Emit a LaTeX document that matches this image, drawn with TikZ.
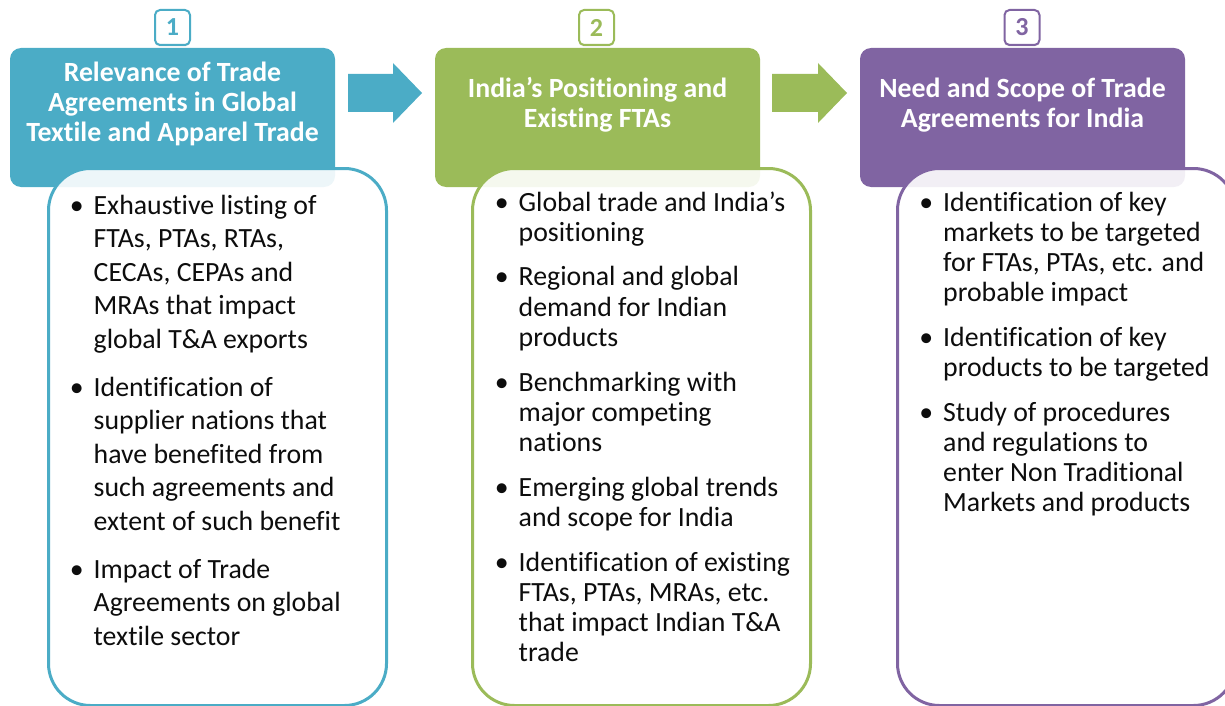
\documentclass[tikz,border=0pt]{standalone}
\usepackage{fontspec}
\setmainfont[Ligatures=NoCommon]{Carlito}
\usetikzlibrary{shadows}
\definecolor{cteal}{HTML}{4BACC6}
\definecolor{cgreen}{HTML}{9BBB59}
\definecolor{cpurple}{HTML}{8064A2}
\definecolor{ink}{HTML}{0D0D0D}
\newcommand{\bul}{\leavevmode\llap{\textbullet\hspace{10pt}}}
\begin{document}
\begin{tikzpicture}[x=1pt,y=-1pt,
  header/.style={fill=#1, draw=none, rounded corners=11pt,
    minimum width=325pt, minimum height=139pt, inner sep=0pt},
  card/.style={draw=#1, line width=3pt, fill=white, fill opacity=0.9,
    draw opacity=1, rounded corners=42pt,
    minimum width=338pt, minimum height=537pt, inner sep=0pt},
  numbox/.style={draw=#1, line width=2pt, fill=white, rounded corners=5pt,
    minimum size=35pt, inner sep=0pt, text=#1,
    font=\fontsize{26}{26}\selectfont\bfseries,
    drop shadow={opacity=0.22, shadow xshift=0pt, shadow yshift=-1.5pt}},
  title/.style={inner sep=0pt, anchor=base, text=white},
  body/.style={inner sep=0pt, anchor=base west, text=ink},
  blockarrow/.style={fill=#1, draw=none}
]
\useasboundingbox (0,0) rectangle (1225,706);
\clip (0,0) rectangle (1225,706);

% column headers
\node[header=cteal]   (h1) at (172.5,117.5) {};
\node[header=cgreen]  (h2) at (597.5,117.5) {};
\node[header=cpurple] (h3) at (1022.5,117.5) {};

% block arrows between the headers
\fill[blockarrow=cteal] (348,74) -- (393,74) -- (393,63) -- (422,93)
  -- (393,123) -- (393,112) -- (348,112) -- cycle;
\fill[blockarrow=cgreen] (772,74) -- (818,74) -- (818,63) -- (847,93)
  -- (818,123) -- (818,112) -- (772,112) -- cycle;

% step numbers
\node[numbox=cteal]   (n1) at (172.5,27.5) {1};
\node[numbox=cgreen]  (n2) at (596.5,27.5) {2};
\node[numbox=cpurple] (n3) at (1022,27.5) {3};

% header titles
\node[title] (t1) at (172.5,82) {\parbox[t]{320pt}{\centering
  \fontsize{27.8}{30}\selectfont\bfseries
  Relevance of Trade\\Agreements in Global\\Textile and Apparel Trade}};
\node[title] (t2) at (597.5,98) {\parbox[t]{320pt}{\centering
  \fontsize{27.8}{30}\selectfont\bfseries
  India’s Positioning and\\Existing FTAs}};
\node[title] (t3) at (1022.5,98) {\parbox[t]{320pt}{\centering
  \fontsize{27.8}{30}\selectfont\bfseries
  Need and Scope of Trade\\Agreements for India}};

% detail cards
\node[card=cteal]   (c1) at (217.5,437) {};
\node[card=cgreen]  (c2) at (641.5,437) {};
\node[card=cpurple] (c3) at (1066.5,437) {};

% card contents
\node[body] (b1) at (93.5,214) {\parbox[t]{320pt}{\raggedright
  \fontsize{27.8}{33.6}\selectfont
  \bul Exhaustive listing of\\FTAs, PTAs, RTAs,\\CECAs, CEPAs and\\MRAs that impact\\global T\&A exports\par\vspace{14pt}
  \bul Identification of\\supplier nations that\\have benefited from\\such agreements and\\extent of such benefit\par\vspace{14pt}
  \bul Impact of Trade\\Agreements on global\\textile sector}};

\node[body] (b2) at (518.5,211) {\parbox[t]{320pt}{\raggedright
  \fontsize{27.8}{30.2}\selectfont
  \bul Global trade and India’s\\positioning\par\vspace{14.5pt}
  \bul Regional and global\\demand for Indian\\products\par\vspace{14.5pt}
  \bul Benchmarking with\\major competing\\nations\par\vspace{14.5pt}
  \bul Emerging global trends\\and scope for India\par\vspace{14.5pt}
  \bul Identification of existing\\FTAs, PTAs, MRAs, etc.\\that impact Indian T\&A\\trade}};

\node[body] (b3) at (943,211) {\parbox[t]{320pt}{\raggedright
  \fontsize{27.8}{30.2}\selectfont
  \bul Identification of key\\markets to be targeted\\for FTAs, PTAs, etc. and\\probable impact\par\vspace{14.5pt}
  \bul Identification of key\\products to be targeted\par\vspace{14.5pt}
  \bul Study of procedures\\and regulations to\\enter Non Traditional\\Markets and products}};
\end{tikzpicture}
\end{document}
